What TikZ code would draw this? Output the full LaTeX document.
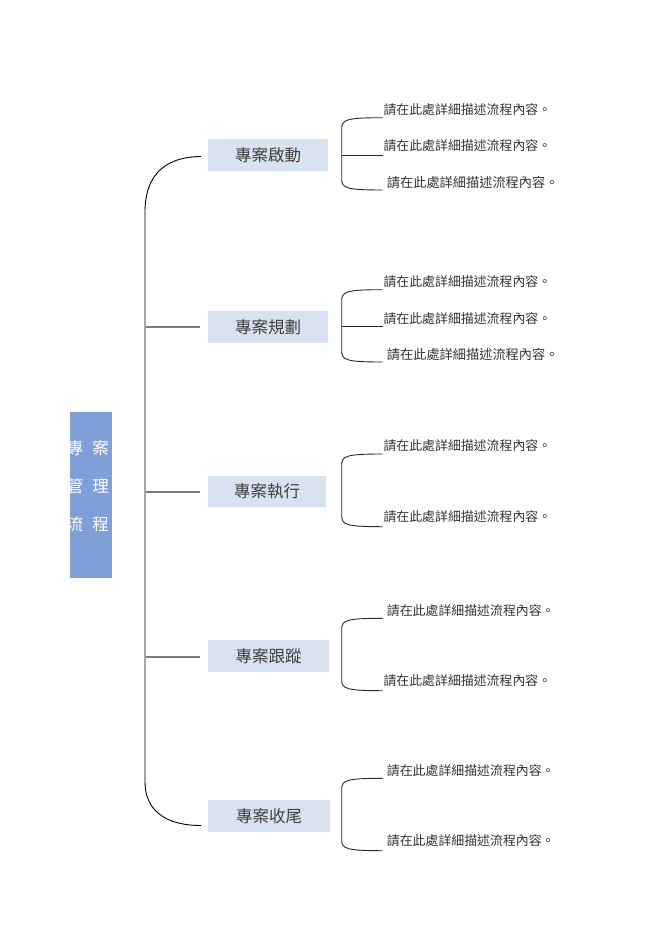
\documentclass[tikz,border=0pt]{standalone}
\usepackage{fontspec}
\newfontfamily\cjk{Noto Sans CJK TC}
\definecolor{boxfill}{HTML}{D9E2F0}
\definecolor{mainfill}{HTML}{819FD7}
\definecolor{labtext}{HTML}{404040}
\definecolor{desctext}{HTML}{333333}
\definecolor{tickgray}{HTML}{7A7A7A}
\tikzset{
  phasebox/.style={fill=boxfill, inner sep=0pt, text=labtext,
    font=\cjk\fontsize{16.5}{18}\selectfont},
  desc/.style={anchor=west, inner sep=0pt, text=desctext,
    font=\cjk\fontsize{12.9}{14}\selectfont},
  descbig/.style={desc, font=\cjk\fontsize{13.2}{15}\selectfont},
  maintxt/.style={inner sep=0pt, text=white, font=\cjk\fontsize{16.5}{18}\selectfont},
  trunk/.style={draw=black, line width=0.9pt},
  tick/.style={draw=tickgray, line width=1.8pt},
  brack/.style={draw=black!85, line width=0.9pt},
}
\begin{document}
\begin{tikzpicture}[x=1pt,y=-1pt]
\useasboundingbox (0,0) rectangle (662,936);
% central box
\node[fill=mainfill, minimum width=42pt, minimum height=166pt, inner sep=0pt] (main) at (91,495) {};
\node[maintxt] (m1) at (75,448) {專};
\node[maintxt] (m2) at (100.5,448) {案};
\node[maintxt] (m3) at (75,486) {管};
\node[maintxt] (m4) at (100.5,486) {理};
\node[maintxt] (m5) at (75,524) {流};
\node[maintxt] (m6) at (100.5,524) {程};
% phase boxes
\node[phasebox, minimum width=119.5pt, minimum height=31.5pt] (b1) at (268,155) {專案啟動};
\node[phasebox, minimum width=120pt, minimum height=31.5pt] (b2) at (268,327) {專案規劃};
\node[phasebox, minimum width=118.5pt, minimum height=30.5pt] (b3) at (267,491.5) {專案執行};
\node[phasebox, minimum width=121.5pt, minimum height=31.5pt] (b4) at (268.5,656) {專案跟蹤};
\node[phasebox, minimum width=122.5pt, minimum height=31.5pt] (b5) at (269,816) {專案收尾};
% trunk
\coordinate (t1) at (201,156.5);
\coordinate (t5) at (201,825.5);
\draw[trunk] (t1) .. controls (160,157) and (145,180) .. (145,212)
  -- (145,782) .. controls (145,810) and (165,825.5) .. (t5);
\coordinate (k2) at (146,326.7);
\coordinate (k3) at (146,492.3);
\coordinate (k4) at (146,657.3);
\draw[tick] (k2) -- ([xshift=-8pt]b2.west |- k2);
\draw[tick] (k3) -- ([xshift=-7.7pt]b3.west |- k3);
\draw[tick] (k4) -- ([xshift=-7.7pt]b4.west |- k4);
% descriptions
\node[desc] (d11) at (383.3,110) {請在此處詳細描述流程內容。};
\node[desc] (d12) at (383.3,146) {請在此處詳細描述流程內容。};
\node[descbig] (d13) at (386.7,182.5) {請在此處詳細描述流程內容。};
\node[desc] (d21) at (383.3,282) {請在此處詳細描述流程內容。};
\node[desc] (d22) at (383.3,318.5) {請在此處詳細描述流程內容。};
\node[descbig] (d23) at (386.7,354.5) {請在此處詳細描述流程內容。};
\node[desc] (d31) at (383.3,445.5) {請在此處詳細描述流程內容。};
\node[desc] (d32) at (383.3,516.5) {請在此處詳細描述流程內容。};
\node[desc] (d41) at (386.7,610.5) {請在此處詳細描述流程內容。};
\node[desc] (d42) at (383.3,681) {請在此處詳細描述流程內容。};
\node[desc] (d51) at (386.7,771) {請在此處詳細描述流程內容。};
\node[desc] (d52) at (386.7,841) {請在此處詳細描述流程內容。};
% bracket end coordinates
\foreach \g/\yt/\yb in {1/117.7/190, 2/289.7/362, 3/454/526.7, 4/618.3/690.7, 5/778.3/850.7}{
  \coordinate (g\g t) at (382.7,\yt);
  \coordinate (g\g b) at (382.7,\yb);
  \draw[brack] (g\g t) .. controls (346,\yt) and (341.7,\yt+2) .. (341.7,\yt+11)
    -- (341.7,\yb-11) .. controls (341.7,\yb-2) and (346,\yb) .. (g\g b);
}
\coordinate (g1m) at (382.7,155);
\coordinate (g2m) at (382.7,326.7);
\draw[brack] (341.7,155) -- (g1m);
\draw[brack] (341.7,326.7) -- (g2m);
\end{tikzpicture}
\end{document}
